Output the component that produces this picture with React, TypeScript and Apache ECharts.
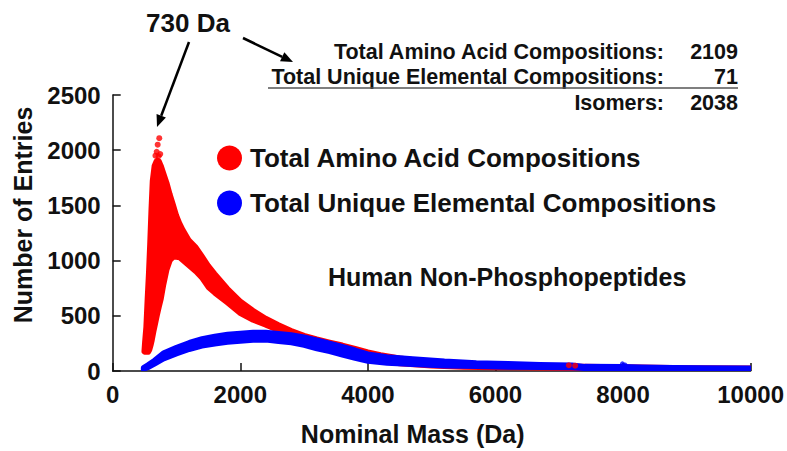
import React, { useEffect, useRef } from "react";
import * as echarts from "echarts";

// ---- data ----
const RED_MASS = [490, 500, 520, 540, 560, 580, 600, 620, 650, 680, 700, 730, 760, 800, 850, 900, 950, 1000, 1050, 1100, 1200, 1300, 1400, 1500, 1600, 1800, 2000, 2200, 2400, 2600, 2800, 3000, 3200, 3400, 3600, 3800, 4000, 4200, 4500, 5000, 5500, 6000, 7000, 8000, 9000, 10000];
const RED_LOWER = [175, 170, 170, 170, 170, 190, 230, 280, 370, 450, 505, 580, 650, 780, 915, 1000, 1030, 1030, 1025, 1000, 950, 900, 840, 755, 705, 615, 520, 460, 415, 365, 320, 285, 240, 200, 165, 130, 100, 85, 65, 45, 35, 30, 25, 22, 20, 20];
const RED_UPPER = [180, 260, 400, 650, 880, 1150, 1460, 1720, 1860, 1900, 1910, 1900, 1860, 1790, 1705, 1600, 1508, 1412, 1340, 1281, 1183, 1126, 1042, 955, 883, 748, 633, 549, 477, 419, 367, 322, 290, 262, 235, 205, 172, 148, 118, 85, 65, 55, 45, 38, 30, 28];
const RED_EXTRA: [number, number][] = [[730, 2109], [705, 2050], [690, 1985], [745, 1965], [670, 1950], [720, 1945], [7150, 52], [7250, 48]];

const BLUE_MASS = [480, 550, 650, 800, 1000, 1200, 1400, 1600, 1800, 2000, 2200, 2400, 2600, 2800, 3000, 3200, 3400, 3600, 3800, 4000, 4300, 4700, 5200, 5700, 6200, 6700, 7200, 7400, 8000, 8300, 8800, 9300, 10000];
const BLUE_LOWER = [15, 30, 60, 110, 155, 195, 225, 245, 260, 270, 278, 280, 268, 255, 232, 200, 175, 145, 115, 88, 70, 58, 45, 40, 35, 32, 30, 22, 22, 22, 20, 20, 20];
const BLUE_UPPER = [30, 55, 95, 165, 215, 258, 292, 315, 332, 343, 350, 352, 340, 328, 308, 282, 252, 222, 190, 155, 130, 112, 90, 75, 68, 60, 55, 42, 40, 36, 32, 30, 28];
const BLUE_EXTRA: [number, number][] = [[7990, 65], [8030, 55]];

const X_TICKS = { min: 0, max: 10000, interval: 2000 };
const Y_TICKS = { min: 0, max: 2500, interval: 500 };

const RED_NAME = "Total Amino Acid Compositions";
const BLUE_NAME = "Total Unique Elemental Compositions";
const SUMMARY = [
  { label: "Total Amino Acid Compositions:", value: "2109" },
  { label: "Total Unique Elemental Compositions:", value: "71" },
  { label: "Isomers:", value: "2038" },
];

const RED = "#ff0000";
const BLUE = "#0000ff";
const FONT = "'Liberation Sans', Arial, Helvetica, sans-serif";

function arrow(x1: number, y1: number, x2: number, y2: number) {
  const dx = x2 - x1, dy = y2 - y1;
  const len = Math.hypot(dx, dy);
  const ux = dx / len, uy = dy / len;
  const nx = -uy, ny = ux;
  const hl = 12, hw = 5;
  const bx = x2 - ux * hl, by = y2 - uy * hl;
  return [
    { type: "line", shape: { x1, y1, x2: bx, y2: by }, style: { stroke: "#000", lineWidth: 2.5 } },
    {
      type: "polygon",
      shape: { points: [[x2, y2], [bx + nx * hw, by + ny * hw], [bx - nx * hw, by - ny * hw]] },
      style: { fill: "#000" },
    },
  ];
}

function bandSeries(name: string, color: string, mass: number[], lo: number[], hi: number[]) {
  return {
    name,
    type: "custom",
    coordinateSystem: "cartesian2d",
    clip: true,
    data: mass.map((m, i) => [m, lo[i], hi[i]]),
    encode: { x: 0, y: [1, 2] },
    itemStyle: { color },
    renderItem: (params: any, api: any) => {
      if (params.dataIndex !== 0) return null;
      const top = mass.map((m, i) => api.coord([m, hi[i]]));
      const bottom = mass.map((m, i) => api.coord([m, lo[i]])).reverse();
      return {
        type: "polygon",
        shape: { points: top.concat(bottom) },
        style: { fill: color, stroke: color, lineWidth: 5, lineJoin: "round" },
      };
    },
  };
}

export default function App() {
  const ref = useRef<HTMLDivElement>(null);
  useEffect(() => {
    if (!ref.current) return;
    const chart = echarts.init(ref.current, undefined, { renderer: "svg" });

    const summaryGraphics: any[] = [];
    const rowY = [52, 77, 103];
    SUMMARY.forEach((r, i) => {
      summaryGraphics.push({
        type: "text", x: 664, y: rowY[i],
        style: { text: r.label, font: `bold 21.5px ${FONT}`, fill: "#111", align: "right", verticalAlign: "middle" },
      });
      summaryGraphics.push({
        type: "text", x: 738, y: rowY[i],
        style: { text: r.value, font: `bold 21.5px ${FONT}`, fill: "#111", align: "right", verticalAlign: "middle" },
      });
    });

    chart.setOption({
      animation: false,
      backgroundColor: "#fff",
      grid: { left: 112.7, right: 33, top: 95, bottom: 77, containLabel: false },
      legend: {
        left: 212, top: 140, orient: "vertical",
        itemWidth: 25, itemHeight: 25, itemGap: 19,
        data: [
          { name: RED_NAME, icon: "circle", itemStyle: { color: RED } },
          { name: BLUE_NAME, icon: "circle", itemStyle: { color: BLUE } },
        ],
        textStyle: { fontFamily: FONT, fontSize: 26, fontWeight: "bold", color: "#111", padding: [0, 0, 0, 3], lineHeight: 25 },
        selectedMode: false,
      },
      xAxis: {
        type: "value", ...X_TICKS,
        name: "Nominal Mass (Da)", nameLocation: "middle", nameGap: 50,
        nameTextStyle: { fontFamily: FONT, fontSize: 25, fontWeight: "bold", color: "#111", padding: [0, 38, 0, 0] },
        axisLine: { lineStyle: { color: "#111", width: 1.5 } },
        axisTick: { inside: true, length: 8, lineStyle: { color: "#111", width: 1.5 } },
        axisLabel: { fontFamily: FONT, fontSize: 24, fontWeight: "bold", color: "#111", margin: 11, formatter: (v: number) => String(v) },
        splitLine: { show: false },
      },
      yAxis: {
        type: "value", ...Y_TICKS,
        name: "Number of Entries", nameLocation: "middle", nameGap: 77,
        nameTextStyle: { fontFamily: FONT, fontSize: 25, fontWeight: "bold", color: "#111", padding: [0, 0, 0, 36] },
        axisLine: { show: true, lineStyle: { color: "#111", width: 1.5 } },
        axisTick: { show: true, inside: true, length: 8, lineStyle: { color: "#111", width: 1.5 } },
        axisLabel: { fontFamily: FONT, fontSize: 24, fontWeight: "bold", color: "#111", margin: 12, formatter: (v: number) => String(v) },
        splitLine: { show: false },
      },
      series: [
        bandSeries(RED_NAME, RED, RED_MASS, RED_LOWER, RED_UPPER),
        { name: RED_NAME, type: "scatter", symbolSize: 6, data: RED_EXTRA, itemStyle: { color: RED } },
        bandSeries(BLUE_NAME, BLUE, BLUE_MASS, BLUE_LOWER, BLUE_UPPER),
        { name: BLUE_NAME, type: "scatter", symbolSize: 5, data: BLUE_EXTRA, itemStyle: { color: BLUE } },
      ],
      graphic: [
        {
          type: "text", x: 188, y: 23,
          style: { text: "730 Da", font: `bold 26px ${FONT}`, fill: "#111", align: "center", verticalAlign: "middle" },
        },
        ...arrow(189, 42, 157, 127),
        ...arrow(243, 38, 293, 62),
        ...summaryGraphics,
        { type: "line", shape: { x1: 268, y1: 88, x2: 738, y2: 88 }, style: { stroke: "#555", lineWidth: 1.5 } },
        {
          type: "text", x: 328, y: 277,
          style: { text: "Human Non-Phosphopeptides", font: `bold 25px ${FONT}`, fill: "#111", align: "left", verticalAlign: "middle" },
        },
      ],
    });
    return () => chart.dispose();
  }, []);
  return <div ref={ref} style={{ position: "fixed", left: 0, top: 0, width: 787, height: 451, background: "#fff" }} />;
}
